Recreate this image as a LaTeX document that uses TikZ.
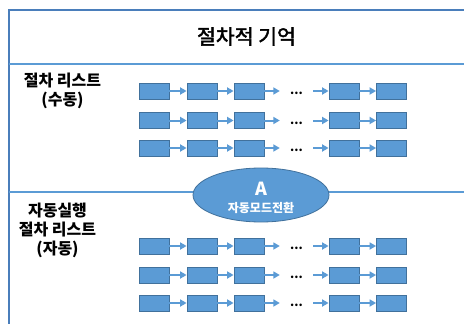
\documentclass[tikz,border=0pt]{standalone}
\usepackage{fontspec}
\setmainfont{Noto Sans CJK KR}
\newfontfamily\titlefont[FakeBold=2]{Noto Sans CJK KR}
\usetikzlibrary{shapes.geometric,arrows.meta}
\definecolor{framec}{RGB}{74,126,187}
\definecolor{divc}{RGB}{91,155,213}
\definecolor{boxfill}{RGB}{91,155,213}
\definecolor{boxedge}{RGB}{65,113,156}
\begin{document}
\begin{tikzpicture}[x=1pt,y=-1pt,
  stepbox/.style={draw=boxedge, fill=boxfill, line width=0.8pt, minimum width=30pt, minimum height=16pt, inner sep=0pt},
  link/.style={draw=divc, line width=2pt, -{Triangle[length=6.5pt,width=7pt]}},
  dotsnode/.style={inner sep=0pt, text height=0pt, text depth=0pt, minimum width=33pt, font=\bfseries\fontsize{12}{12}\selectfont},
  lbl/.style={align=center, font=\bfseries\fontsize{16}{19}\selectfont, inner sep=0pt},
  divider/.style={draw=divc, line width=1.5pt}]
\useasboundingbox (0,0) rectangle (464,324);
\fill[white] (0,0) rectangle (464,324);
% frame
\coordinate (fbl) at (9,324);
\coordinate (ftl) at (9,9.5);
\coordinate (ftr) at (464,9.5);
\draw[framec, line width=2pt] (fbl) -- (ftl) -- (ftr);
% dividers
\coordinate (d1l) at (9,64);
\coordinate (d1r) at (464,64);
\coordinate (d2l) at (9,192);
\coordinate (d2r) at (464,192);
\draw[divider] (d1l) -- (d1r);
\draw[divider] (d2l) -- (d2r);
% title
\node[font=\titlefont\fontsize{20.5}{24}\selectfont, inner sep=0pt] (title) at (246.5,36.5) {절차적 기억};
% labels
\node[lbl] (manual) at (62.5,91) {절차 리스트\\(수동)};
\node[lbl] (auto) at (57.5,230.5) {자동실행\\절차 리스트\\(자동)};
% rows
\foreach \r/\y in {1/91,2/120.5,3/148,4/246,5/275,6/303} {
  \node[stepbox] (b\r-1) at (154,\y) {};
  \node[stepbox] (b\r-2) at (202,\y) {};
  \node[stepbox] (b\r-3) at (249,\y) {};
  \node[dotsnode] (d\r) at (296.5,\y) {\raisebox{-3.5pt}{...}};
  \node[stepbox] (b\r-4) at (344,\y) {};
  \node[stepbox] (b\r-5) at (391.5,\y) {};
  \draw[link] (b\r-1) -- (b\r-2);
  \draw[link] (b\r-2) -- (b\r-3);
  \draw[link] (b\r-3) -- (d\r);
  \draw[link] (d\r) -- (b\r-4);
  \draw[link] (b\r-4) -- (b\r-5);
}
% ellipse
\node[ellipse, draw=boxedge, fill=boxfill, line width=0.8pt, minimum width=136pt, minimum height=54pt, inner sep=0pt] (mode) at (261,195) {};
\node[white, font=\bfseries\fontsize{18}{18}\selectfont, inner sep=0pt] (modeA) at (261,189) {A};
\node[white, font=\bfseries\fontsize{12}{12}\selectfont, inner sep=0pt] (modeT) at (261,207.5) {자동모드전환};
\end{tikzpicture}
\end{document}
